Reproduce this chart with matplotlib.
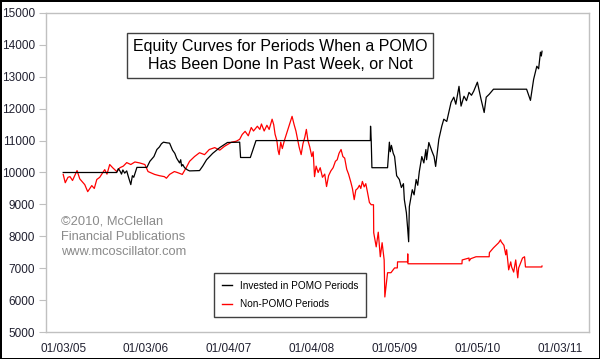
import numpy as np
import pandas as pd
import matplotlib
matplotlib.use("Agg")
import matplotlib.pyplot as plt
from matplotlib.lines import Line2D

plt.rcParams['font.family'] = ['Liberation Sans', 'DejaVu Sans']

# equity curve when invested only in POMO weeks (black)
pomo_dates = [
    "2005-01-03", "2005-08-27", "2005-09-03", "2005-09-10", "2005-09-17", "2005-09-23",
    "2005-10-01", "2005-10-10", "2005-10-18", "2005-10-28", "2005-11-04", "2005-11-10",
    "2005-11-24", "2006-01-07", "2006-01-20", "2006-02-01", "2006-02-07", "2006-02-20",
    "2006-03-03", "2006-03-12", "2006-03-21", "2006-04-05", "2006-04-17", "2006-04-30",
    "2006-05-10", "2006-05-18", "2006-05-31", "2006-06-05", "2006-06-09", "2006-06-14",
    "2006-06-22", "2006-07-05", "2006-07-14", "2006-08-27", "2006-09-10", "2006-09-27",
    "2006-10-24", "2006-11-24", "2006-12-28", "2007-02-20", "2007-02-24", "2007-04-08",
    "2007-05-03", "2008-09-18", "2008-09-19", "2008-09-22", "2008-09-25", "2008-12-03",
    "2008-12-11", "2008-12-15", "2008-12-20", "2008-12-28", "2009-01-03", "2009-01-12",
    "2009-01-24", "2009-02-02", "2009-02-11", "2009-02-15", "2009-02-24", "2009-03-01",
    "2009-03-06", "2009-03-09", "2009-03-22", "2009-03-30", "2009-04-08", "2009-04-15",
    "2009-04-22", "2009-05-03", "2009-05-12", "2009-05-21", "2009-05-24", "2009-06-03",
    "2009-06-17", "2009-06-26", "2009-07-03", "2009-07-17", "2009-07-30", "2009-08-08",
    "2009-08-21", "2009-09-09", "2009-09-21", "2009-09-30", "2009-10-14", "2009-10-23",
    "2009-11-05", "2009-11-16", "2009-11-27", "2009-12-08", "2009-12-18", "2010-01-03",
    "2010-01-19", "2010-02-02", "2010-02-11", "2010-02-24", "2010-03-15", "2010-08-08",
    "2010-08-25", "2010-09-08", "2010-09-22", "2010-09-30", "2010-10-08", "2010-10-12",
    "2010-10-15",
]
pomo_values = [
    10000, 10000, 10120, 10050, 9950, 10080,
    9980, 10050, 9850, 9620, 9900, 9850,
    10160, 10160, 10350, 10450, 10500, 10720,
    10800, 10900, 10950, 10930, 10920, 10700,
    10600, 10450, 10300, 10400, 10200, 10250,
    10150, 10080, 10050, 10060, 10200, 10400,
    10600, 10780, 10940, 10950, 10470, 10470,
    11000, 11000, 11450, 11000, 10150, 10150,
    10950, 10650, 10850, 10600, 10500, 9900,
    9780, 9530, 9650, 9150, 8740, 8300,
    7830, 8930, 9460, 9300, 9780, 9600,
    10030, 10500, 10300, 10720, 10400, 10940,
    10660, 10500, 10190, 11040, 11450, 11670,
    11600, 12200, 12360, 12140, 12700, 12080,
    12390, 12250, 12510, 12420, 12550, 12830,
    12300, 11880, 12360, 12450, 12610, 12610,
    12260, 12920, 13330, 13250, 13770, 13650,
    13800,
]

# equity curve when invested only in non-POMO weeks (red)
non_dates = [
    "2005-01-03", "2005-01-12", "2005-01-24", "2005-02-02", "2005-02-13", "2005-03-05",
    "2005-03-17", "2005-04-08", "2005-04-21", "2005-05-09", "2005-05-20", "2005-05-31",
    "2005-06-13", "2005-07-05", "2005-07-15", "2005-07-27", "2005-08-09", "2005-08-27",
    "2005-09-10", "2005-09-25", "2005-10-10", "2005-10-28", "2005-11-15", "2005-12-06",
    "2005-12-29", "2006-01-12", "2006-02-10", "2006-03-03", "2006-03-25", "2006-04-03",
    "2006-04-17", "2006-05-08", "2006-05-21", "2006-06-12", "2006-06-30", "2006-07-14",
    "2006-08-05", "2006-08-27", "2006-09-18", "2006-10-09", "2006-11-02", "2006-11-24",
    "2006-12-15", "2007-01-15", "2007-02-05", "2007-02-20", "2007-03-03", "2007-03-16",
    "2007-03-30", "2007-04-12", "2007-04-22", "2007-05-09", "2007-05-20", "2007-05-27",
    "2007-06-08", "2007-06-20", "2007-06-30", "2007-07-13", "2007-07-20", "2007-07-26",
    "2007-08-03", "2007-08-08", "2007-08-13", "2007-08-20", "2007-08-27", "2007-09-05",
    "2007-09-14", "2007-09-25", "2007-10-09", "2007-10-18", "2007-10-26", "2007-11-02",
    "2007-11-09", "2007-11-18", "2007-11-26", "2007-12-04", "2007-12-11", "2007-12-18",
    "2007-12-26", "2008-01-04", "2008-01-10", "2008-01-16", "2008-01-23", "2008-02-01",
    "2008-02-10", "2008-02-20", "2008-03-01", "2008-03-09", "2008-03-18", "2008-03-28",
    "2008-04-07", "2008-04-17", "2008-04-25", "2008-05-03", "2008-05-12", "2008-05-20",
    "2008-05-28", "2008-06-06", "2008-06-14", "2008-06-24", "2008-07-01", "2008-07-09",
    "2008-07-16", "2008-07-24", "2008-08-01", "2008-08-07", "2008-08-14", "2008-08-22",
    "2008-08-29", "2008-09-05", "2008-09-14", "2008-09-22", "2008-10-02",
    "2008-10-03", "2008-10-14", "2008-10-23", "2008-11-01", "2008-11-09", "2008-11-18",
    "2008-11-21", "2008-12-03", "2008-12-18", "2009-01-03", "2009-01-15", "2009-01-16",
    "2009-03-01", "2009-03-02", "2009-03-03", "2009-10-27", "2009-10-28", "2009-11-27",
    "2009-11-28", "2009-12-05", "2009-12-28", "2010-02-24", "2010-02-25", "2010-03-15",
    "2010-04-07", "2010-04-15", "2010-04-18", "2010-04-30", "2010-05-08", "2010-05-12",
    "2010-05-21", "2010-05-30", "2010-06-03", "2010-06-12", "2010-06-21", "2010-06-30",
    "2010-07-04", "2010-07-12", "2010-07-21", "2010-07-30", "2010-08-03", "2010-10-14",
    "2010-10-15",
]
non_values = [
    9940, 9680, 9850, 9870, 9750, 10060,
    9800, 9620, 9400, 9590, 9500, 9780,
    9850, 10090, 9950, 10250, 10150, 10030,
    10150, 10200, 10310, 10250, 10330, 10300,
    10250, 10030, 9940, 9900, 9870, 9820,
    9940, 10030, 10000, 9940, 10160, 10350,
    10500, 10620, 10560, 10720, 10780, 10700,
    10820, 10950, 10980, 11040, 11190, 11290,
    11150, 11410, 11300, 11450, 11350, 11520,
    11300, 11480, 11350, 11670, 11500, 11200,
    11000, 10700, 10560, 10950, 10750, 11000,
    11200, 11450, 11760, 11500, 11300, 11050,
    10800, 10560, 10900, 11100, 11350, 11000,
    10800, 10500, 10650, 9870, 10200, 10000,
    10150, 9850, 9950, 9560, 9900, 10050,
    10150, 10350, 10400, 10600, 10720, 10500,
    10450, 10100, 9950, 9700, 9500, 9150,
    9450, 9500, 9600, 9500, 9720, 9550,
    9650, 9400, 9060, 8990, 8990,
    8110, 7670, 8130, 7360, 7800, 7260,
    6100, 6860, 6860, 7010, 7010, 7200,
    7200, 7450, 7140, 7140, 7260, 7320,
    7230, 7300, 7360, 7360, 7490, 7640,
    7800, 7890, 7830, 7720, 7420, 7580,
    6950, 7200, 7040, 6880, 7260, 6700,
    7010, 7160, 7320, 7360, 7040, 7040,
    7070,
]

tick_dates = ["2005-01-03", "2006-01-03", "2007-01-04", "2008-01-04",
              "2009-01-05", "2010-01-05", "2011-01-03"]
tick_labels = ["01/03/05", "01/03/06", "01/04/07", "01/04/08",
               "01/05/09", "01/05/10", "01/03/11"]

fig = plt.figure(figsize=(6, 3.59), dpi=100)
fig.patch.set_facecolor("white")
fig.patch.set_edgecolor("black")
fig.patch.set_linewidth(2)

ax = fig.add_axes([0.077, 0.075, 0.905, 0.889])
ax.plot(pd.to_datetime(non_dates), non_values, color="#ff0000", lw=0.9)
ax.plot(pd.to_datetime(pomo_dates), pomo_values, color="black", lw=0.9)

ax.set_xlim(pd.Timestamp("2004-10-20"), pd.Timestamp("2011-05-11"))
ax.set_ylim(5000, 15000)
ax.set_yticks(np.arange(5000, 15001, 1000))
ax.set_xticks(pd.to_datetime(tick_dates))
ax.set_xticklabels(tick_labels)

for s in ax.spines.values():
    s.set_color("#c0c0c0")
    s.set_linewidth(1)
ax.tick_params(axis="y", length=5, color="#c0c0c0", labelsize=8.5,
               labelcolor="#202030", pad=3)
ax.tick_params(axis="x", length=0, labelsize=8.5, labelcolor="#202030", pad=8)

ax.text(0.431, 0.866, "Equity Curves for Periods When a POMO\nHas Been Done In Past Week, or Not",
        transform=ax.transAxes, ha="center", va="center", fontsize=11.5,
        linespacing=1.3, color="black",
        bbox=dict(boxstyle="square,pad=0.35", fc="white", ec="#404040", lw=1))

ax.text(0.028, 0.365, "\u00a92010, McClellan\nFinancial Publications\nwww.mcoscillator.com",
        transform=ax.transAxes, ha="left", va="top", fontsize=9.3,
        color="#8a8a8a", linespacing=1.35)

handles = [Line2D([], [], color="black", lw=1), Line2D([], [], color="#ff0000", lw=1)]
leg = ax.legend(handles, ["Invested in POMO Periods", "Non-POMO Periods"],
                loc="lower left", bbox_to_anchor=(0.309, 0.047), borderaxespad=0,
                fontsize=7.2, fancybox=False, framealpha=1, edgecolor="#404040",
                handlelength=1.0, labelspacing=0.85, borderpad=0.8)
leg.get_frame().set_linewidth(1)

fig.savefig("out.png", dpi=100)
